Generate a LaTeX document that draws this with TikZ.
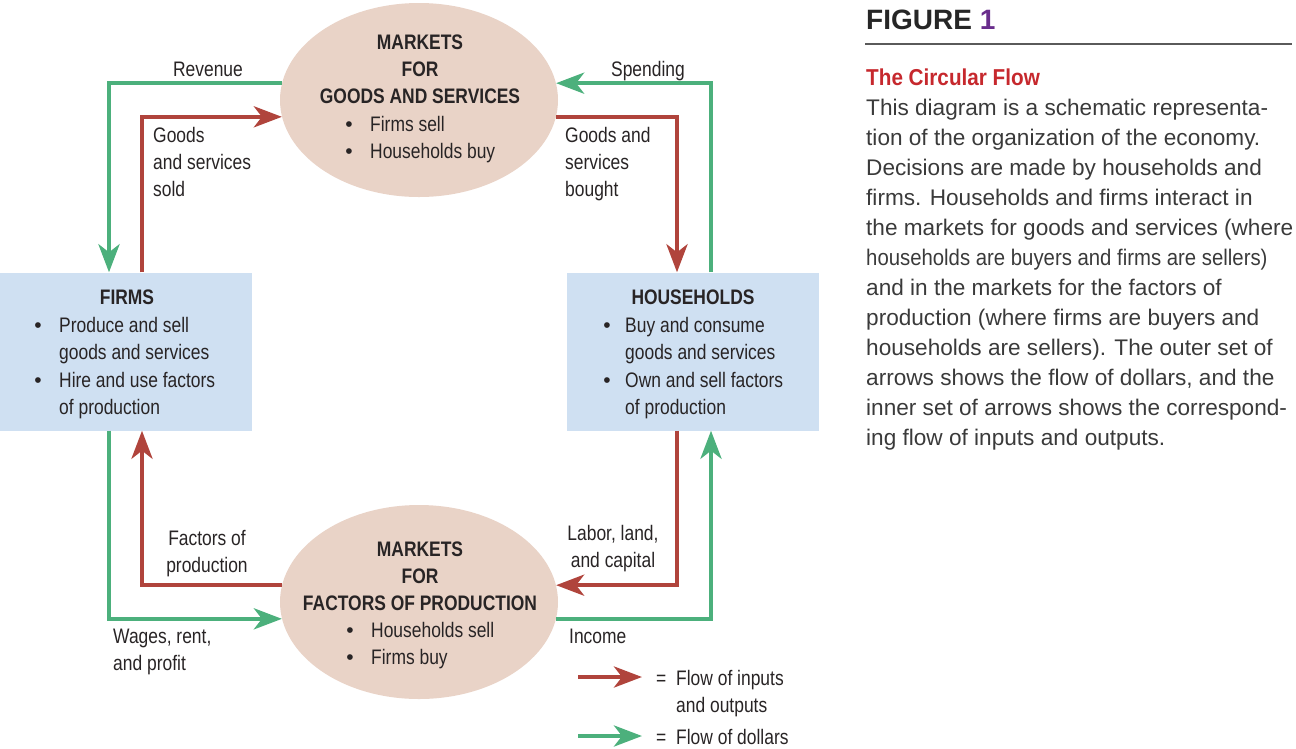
\documentclass[tikz,border=0pt]{standalone}
\usepackage{fontspec}
\setmainfont{Liberation Sans}
\newfontfamily\cond[FakeStretch=0.83]{Liberation Sans}
\newfontfamily\titlecond[FakeStretch=0.9]{Liberation Sans}
\newfontfamily\bodycond[FakeStretch=0.9]{Liberation Sans}
\usetikzlibrary{arrows.meta,shapes.geometric}
\definecolor{redflow}{RGB}{176,68,60}
\definecolor{greenflow}{RGB}{76,176,124}
\definecolor{mktfill}{RGB}{233,211,199}
\definecolor{boxfill}{RGB}{207,224,242}
\definecolor{txt}{RGB}{40,36,37}
\definecolor{bodytxt}{RGB}{58,58,58}
\definecolor{titlered}{RGB}{198,40,45}
\definecolor{figpurple}{RGB}{105,45,140}
\definecolor{rulegray}{RGB}{90,90,90}
\begin{document}
\begin{tikzpicture}[x=1pt,y=-1pt,
  flow/.style={line width=4.5pt,-{Stealth[length=28pt,width=21pt,inset=8pt]}},
  rline/.style={flow,draw=redflow},
  gline/.style={flow,draw=greenflow},
  market/.style={ellipse,fill=mktfill,draw=none,minimum width=278pt,minimum height=194pt,inner sep=0pt},
  agent/.style={rectangle,fill=boxfill,draw=none,minimum width=252pt,minimum height=158pt,inner sep=0pt},
  lbl/.style={font=\cond\fontsize{21}{27}\selectfont,text=txt,inner sep=0pt,align=left,anchor=base west},
  lblc/.style={lbl,align=center,anchor=base},
  hdr/.style={lbl,font=\cond\bfseries\fontsize{21}{27}\selectfont,align=center,anchor=base},
  bul/.style={font=\fontsize{21}{27}\selectfont,text=txt,inner sep=0pt,anchor=base}
]
\useasboundingbox (0,0) rectangle (1296,748);

% shapes
\node[market] (mg) at (419,100) {};
\node[market] (mf) at (419,602) {};
\node[agent] (firms) at (126,351.5) {};
\node[agent] (hh) at (693,351.5) {};

% connectors
\draw[gline] (mg.173) -| ([xshift=-17pt]firms.north);
\draw[rline] ([xshift=16pt]firms.north) |- (mg.187);
\draw[rline] (mg.-7) -| ([xshift=-16pt]hh.north);
\draw[gline] ([xshift=18pt]hh.north) |- (mg.7);
\draw[rline] (mf.173) -| ([xshift=16pt]firms.south);
\draw[gline] ([xshift=-17pt]firms.south) |- (mf.187);
\draw[rline] ([xshift=-16pt]hh.south) |- (mf.7);
\draw[gline] (mf.-7) -| ([xshift=18pt]hh.south);

% top market text (base anchor = last line)
\node[hdr] (mgh) at (420,103) {MARKETS\\FOR\\GOODS AND SERVICES};
\node[bul] (mgb1) at (349,131) {\textbullet};
\node[lbl] (mgt1) at (370,131) {Firms sell};
\node[bul] (mgb2) at (349,158) {\textbullet};
\node[lbl] (mgt2) at (370,158) {Households buy};

% bottom market text
\node[hdr] (mfh) at (420,610) {MARKETS\\FOR\\FACTORS OF PRODUCTION};
\node[bul] (mfb1) at (350,637) {\textbullet};
\node[lbl] (mft1) at (371,637) {Households sell};
\node[bul] (mfb2) at (350,664) {\textbullet};
\node[lbl] (mft2) at (371,664) {Firms buy};

% firms text
\node[hdr] (fh) at (127,304) {FIRMS};
\node[bul] (fb1) at (38,332) {\textbullet};
\node[lbl] (ft1) at (59,359) {Produce and sell\\goods and services};
\node[bul] (fb2) at (38,387) {\textbullet};
\node[lbl] (ft2) at (59,414) {Hire and use factors\\of production};

% households text
\node[hdr] (hhh) at (693,304) {HOUSEHOLDS};
\node[bul] (hb1) at (607,332) {\textbullet};
\node[lbl] (ht1) at (625,359) {Buy and consume\\goods and services};
\node[bul] (hb2) at (607,387) {\textbullet};
\node[lbl] (ht2) at (625,414) {Own and sell factors\\of production};

% flow labels
\node[lblc] (rev) at (208,76) {Revenue};
\node[lblc] (spend) at (648,76) {Spending};
\node[lbl] (gss) at (153,196) {Goods\\and services\\sold};
\node[lbl] (gsb) at (565,196) {Goods and\\services\\bought};
\node[lblc] (fop) at (207,572) {Factors of\\production};
\node[lblc] (llc) at (613,567) {Labor, land,\\and capital};
\node[lbl] (wrp) at (113,670) {Wages, rent,\\and profit};
\node[lbl] (inc) at (569,643) {Income};

% legend
\coordinate (lr1) at (578,677);
\coordinate (lr2) at (642,677);
\coordinate (lg1) at (578,736);
\coordinate (lg2) at (642,736);
\draw[rline] (lr1) -- (lr2);
\draw[gline] (lg1) -- (lg2);
\node[lbl] (eq1) at (656,685) {=};
\node[lbl] (leg1) at (676,712) {Flow of inputs\\and outputs};
\node[lbl] (eq2) at (656,744) {=};
\node[lbl] (leg2) at (676,744) {Flow of dollars};

% caption panel
\node[anchor=base west,inner sep=0pt,text=black!85,font=\bfseries\fontsize{28}{32}\selectfont] (fig) at (866,29) {FIGURE \textcolor{figpurple}{1}};
\coordinate (rl) at (865,44);
\coordinate (rr) at (1292,44);
\draw[rulegray,line width=1.5pt] (rl) -- (rr);
\node[anchor=base west,inner sep=0pt,text=titlered,font=\titlecond\bfseries\fontsize{23}{28}\selectfont] (cap) at (866,85) {The Circular Flow};
\node[anchor=base west,inner sep=0pt,align=left,text=bodytxt,font=\fontsize{22.6}{30}\selectfont] (body) at (866,445)
{This diagram is a schematic representa-\\
tion of the organization of the economy.\\
Decisions are made by households and\\
firms. Households and firms interact in\\
the markets for goods and services (where\\
{\bodycond households are buyers and firms are sellers)}\\
and in the markets for the factors of\\
production (where firms are buyers and\\
households are sellers). The outer set of\\
arrows shows the flow of dollars, and the\\
inner set of arrows shows the correspond-\\
ing flow of inputs and outputs.};
\end{tikzpicture}
\end{document}
